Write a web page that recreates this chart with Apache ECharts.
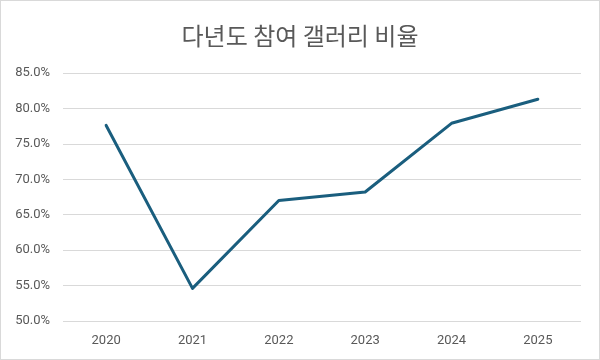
<!DOCTYPE html>
<html><head><meta charset="utf-8">
<script src="https://cdn.jsdelivr.net/npm/echarts@6/dist/echarts.min.js"></script>
<style>html,body{margin:0;padding:0;background:#fff}#c{width:600px;height:360px;box-sizing:border-box;border:1px solid #d9d9d9}</style>
</head><body><div id="c"></div>
<script>
const years = ['2020','2021','2022','2023','2024','2025'];
const ratio = [77.6, 54.6, 67.0, 68.2, 77.9, 81.3];
const chart = echarts.init(document.getElementById('c'));
chart.setOption({
  animation: false,
  title: { text: '다년도 참여 갤러리 비율', left: 'center', top: 18,
    textStyle: { fontFamily: 'Noto Sans CJK KR', fontSize: 24, fontWeight: 'normal', color: '#595959' } },
  grid: { left: 62, right: 18, top: 72, bottom: 38 },
  xAxis: { type: 'category', data: years, boundaryGap: true,
    axisLine: { show: false }, axisTick: { show: false },
    axisLabel: { color: '#595959', fontSize: 13, fontFamily: 'Roboto', margin: 13 } },
  yAxis: { type: 'value', min: 50, max: 85, interval: 5,
    axisLine: { show: false }, axisTick: { show: false },
    splitLine: { lineStyle: { color: '#d9d9d9', width: 1 } },
    axisLabel: { color: '#595959', fontSize: 13, fontFamily: 'Roboto', margin: 13,
      formatter: v => v.toFixed(1) + '%' } },
  series: [{ type: 'line', data: ratio, symbol: 'none',
    lineStyle: { color: '#1a5e7e', width: 3, cap: 'round', join: 'round' } }]
});
</script></body></html>
